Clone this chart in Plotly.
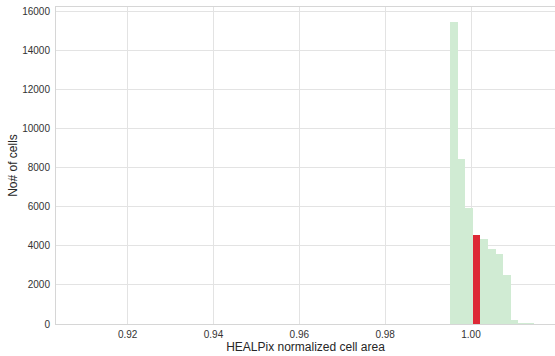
import plotly.graph_objects as go

# Histogram of HEALPix normalized cell area
bin_left_edges = [0.99511, 0.99688, 0.99865, 1.00042, 1.00219, 1.00396, 1.00573, 1.00750, 1.00927, 1.01104, 1.01281]
bin_width = 0.00177
green_counts = [15450, 8460, 5920, 4550, 4330, 3845, 3600, 2530, 200, 20, 8]
highlight_left = [1.00042]
highlight_counts = [4550]

x_ticks = [0.92, 0.94, 0.96, 0.98, 1.00]
x_tick_labels = ["0.92", "0.94", "0.96", "0.98", "1.00"]
y_ticks = [0, 2000, 4000, 6000, 8000, 10000, 12000, 14000, 16000]
y_tick_labels = ["0", "2000", "4000", "6000", "8000", "10000", "12000", "14000", "16000"]

centers = [e + bin_width / 2 for e in bin_left_edges]
hl_centers = [e + bin_width / 2 for e in highlight_left]

fig = go.Figure()
fig.add_trace(go.Bar(x=centers, y=green_counts, width=bin_width,
                     marker=dict(color="rgb(208,235,211)", line=dict(width=0)),
                     showlegend=False))
fig.add_trace(go.Bar(x=hl_centers, y=highlight_counts, width=bin_width * 0.95,
                     marker=dict(color="#dd2936", line=dict(width=0)),
                     showlegend=False))

font = "Liberation Sans, Arial, sans-serif"
fig.update_layout(
    width=555, height=356,
    margin=dict(l=56, r=0, t=7, b=32, autoexpand=False),
    paper_bgcolor="white", plot_bgcolor="white",
    barmode="overlay", bargap=0,
    font=dict(family=font, size=10, color="#333333"),
    xaxis=dict(range=[0.9033, 1.01957], tickvals=x_ticks, ticktext=x_tick_labels,
               showgrid=True, gridcolor="#e3e3e3", gridwidth=1,
               showline=True, linecolor="#d6d6d6", linewidth=1, mirror=True,
               zeroline=False, ticks="", ticklabelstandoff=1, automargin=False,
               title=dict(text="HEALPix normalized cell area", font=dict(size=12, color="#262626"), standoff=0)),
    yaxis=dict(range=[0, 16240], tickvals=y_ticks, ticktext=y_tick_labels,
               showgrid=True, gridcolor="#e3e3e3", gridwidth=1,
               showline=True, linecolor="#d6d6d6", linewidth=1, mirror=True,
               zeroline=False, ticks="", ticklabelstandoff=3, automargin=False,
               title=dict(text="No# of cells", font=dict(size=12, color="#262626"), standoff=1)),
)
fig.write_html("out.html", config={"displayModeBar": False},
               post_script="document.body.style.margin='0';document.body.style.overflow='hidden';")
